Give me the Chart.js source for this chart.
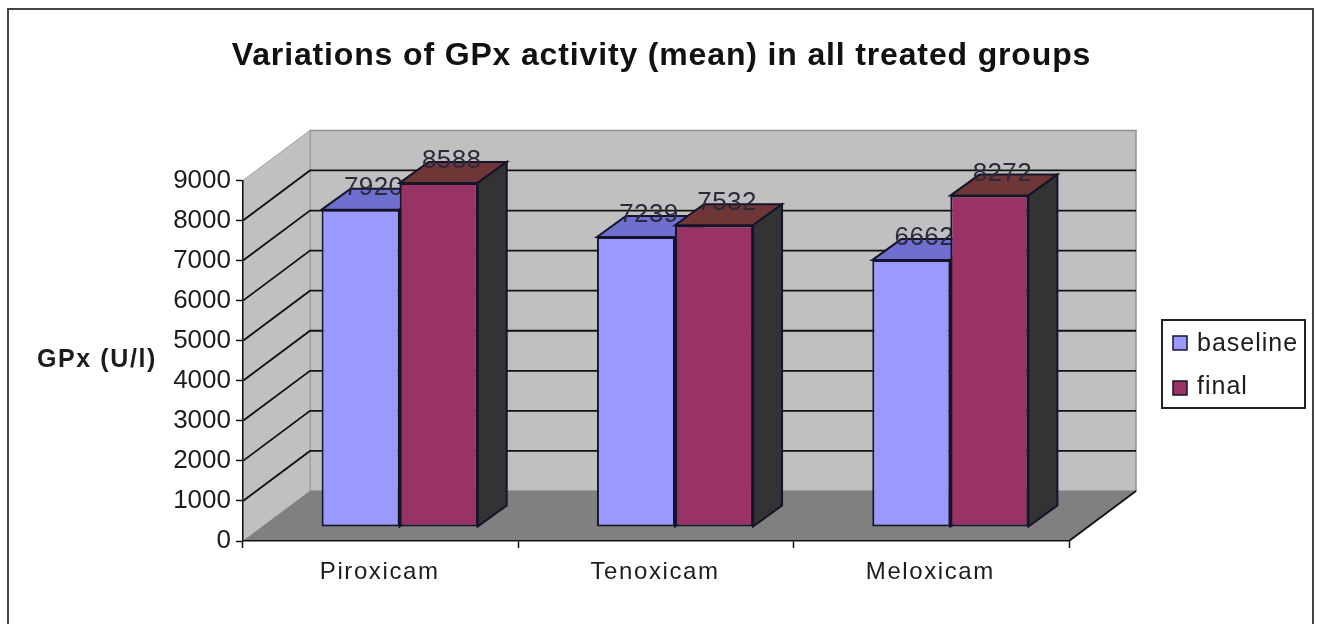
<!DOCTYPE html>
<html>
<head>
<meta charset="utf-8">
<title>GPx activity</title>
<script src="https://cdn.jsdelivr.net/npm/chart.js@4"></script>
<style>
    html, body { margin: 0; background: #fff; }
    canvas { display: block; }
</style>
</head>
<body>
<canvas id="myChart" width="1317" height="624"></canvas>
<script>
var drugs = ['Piroxicam', 'Tenoxicam', 'Meloxicam'];
var baseline = [7920, 7239, 6662];
var finalValues = [8588, 7532, 8272];
var yTicks = [0, 1000, 2000, 3000, 4000, 5000, 6000, 7000, 8000, 9000];

const chartTitle = 'Variations of GPx activity (mean) in all treated groups';
const yTitle = 'GPx (U/l)';
const fontName = '"Liberation Sans", Arial, sans-serif';
const textColor = '#1c1c1c';

// 3d look: wall depth and how far the bars sit from the front edge
const wallDx = 67, wallDy = 50;
const barDx = 19, barDy = 14;
const sideDx = 29, sideDy = 21;
const topColors = ['#6f6fcf', '#6e3636'];

function polygon(ctx, pts, fill, stroke, lw) {
    ctx.beginPath();
    pts.forEach(function (p, i) {
        if (i === 0) ctx.moveTo(p[0], p[1]); else ctx.lineTo(p[0], p[1]);
    });
    ctx.closePath();
    if (fill) { ctx.fillStyle = fill; ctx.fill(); }
    if (stroke) { ctx.strokeStyle = stroke; ctx.lineWidth = lw || 1; ctx.stroke(); }
}

// the reference text is stretched sideways, letter spacing gets close to that
function withSpacing(box, method, px, shiftX) {
    var orig = box[method];
    box[method] = function () {
        var ctx = this.ctx;
        ctx.save();
        ctx.letterSpacing = px + 'px';
        ctx.translate(shiftX || 0, 0);
        orig.apply(this, arguments);
        ctx.restore();
    };
}

const walls3d = {
    id: 'walls3d',
    beforeDraw: function (chart) {
        if (!chart.$spaced) {
            withSpacing(chart.scales.x, 'drawLabels', 1.6, -1);
            withSpacing(chart.titleBlock, 'draw', 0.85, 127);
            chart.$spaced = true;
        }
        var ctx = chart.ctx, a = chart.chartArea, y = chart.scales.y;
        ctx.save();
        // outer frame, bottom edge falls outside the picture
        ctx.strokeStyle = '#444';
        ctx.lineWidth = 2;
        ctx.strokeRect(8, 9, 1305, 640);

        polygon(ctx, [[a.left + wallDx, a.top - wallDy], [a.right + wallDx, a.top - wallDy], [a.right + wallDx, a.bottom - wallDy], [a.left + wallDx, a.bottom - wallDy]], '#c0c0c0', '#909090', 1.5);
        polygon(ctx, [[a.left, a.top], [a.left + wallDx, a.top - wallDy], [a.left + wallDx, a.bottom - wallDy], [a.left, a.bottom]], '#c0c0c0', '#a0a0a0', 1);
        polygon(ctx, [[a.left, a.bottom], [a.left + wallDx, a.bottom - wallDy], [a.right + wallDx, a.bottom - wallDy], [a.right, a.bottom]], '#808080');

        ctx.strokeStyle = '#111';
        ctx.lineWidth = 1.8;
        yTicks.forEach(function (v) {
            if (v === 0 || v === 9000) return;
            var py = y.getPixelForValue(v);
            ctx.beginPath();
            ctx.moveTo(a.left, py);
            ctx.lineTo(a.left + wallDx, py - wallDy);
            ctx.lineTo(a.right + wallDx, py - wallDy);
            ctx.stroke();
        });
        ctx.beginPath();
        ctx.moveTo(a.right, a.bottom);
        ctx.lineTo(a.right + wallDx, a.bottom - wallDy);
        ctx.stroke();
        ctx.restore();
    },
    // series are drawn here so baseline goes first and final overlaps its labels
    beforeDatasetsDraw: function (chart) {
        var ctx = chart.ctx;
        chart.data.datasets.forEach(function (ds, i) {
            var meta = chart.getDatasetMeta(i);
            ctx.save();
            ctx.translate(barDx, -barDy);
            meta.data.forEach(function (bar) {
                var p = bar.getProps(['x', 'y', 'base', 'width'], true);
                var l = p.x - p.width / 2, r = p.x + p.width / 2;
                polygon(ctx, [[l, p.y], [l + sideDx, p.y - sideDy], [r + sideDx, p.y - sideDy], [r, p.y]], topColors[i], '#14142a', 2);
                polygon(ctx, [[r, p.y], [r + sideDx, p.y - sideDy], [r + sideDx, p.base - sideDy], [r, p.base]], '#333333', '#14142a', 2);
            });
            meta.controller.draw();
            ctx.font = '26px ' + fontName;
            ctx.letterSpacing = '0.4px';
            ctx.fillStyle = '#2a2a3a';
            ctx.textAlign = 'center';
            ctx.textBaseline = 'middle';
            meta.data.forEach(function (bar, j) {
                var p = bar.getProps(['x', 'y'], true);
                ctx.fillText(ds.data[j], p.x + 13, p.y - 22);
            });
            ctx.restore();
        });
        return false;
    },
    afterDraw: function (chart) {
        var ctx = chart.ctx;
        ctx.save();
        ctx.fillStyle = textColor;
        ctx.font = 'bold 25px ' + fontName;
        ctx.textBaseline = 'middle';
        ctx.letterSpacing = '1.6px';
        ctx.fillText(yTitle, 37, 360);

        // legend box
        ctx.strokeStyle = '#222';
        ctx.lineWidth = 2;
        ctx.strokeRect(1162, 320, 143, 88);
        ctx.font = '25px ' + fontName;
        ctx.letterSpacing = '1px';
        chart.data.datasets.forEach(function (ds, i) {
            var cy = 343 + i * 45;
            ctx.fillStyle = ds.backgroundColor;
            ctx.fillRect(1173, cy - 7, 14, 14);
            ctx.strokeStyle = '#14142a';
            ctx.lineWidth = 1.5;
            ctx.strokeRect(1173, cy - 7, 14, 14);
            ctx.fillStyle = textColor;
            ctx.fillText(ds.label, 1197, 344 + i * 43);
        });
        ctx.restore();
    }
};

var ctx = document.getElementById('myChart').getContext('2d');
new Chart(ctx, {
    type: 'bar',
    data: {
        labels: drugs,
        datasets: [
            { label: 'baseline', data: baseline, backgroundColor: '#9999ff' },
            { label: 'final', data: finalValues, backgroundColor: '#993366' }
        ]
    },
    options: {
        responsive: false,
        animation: false,
        layout: { padding: { left: 0, right: 248, top: 0, bottom: 0 } },
        datasets: {
            bar: {
                barPercentage: 1,
                categoryPercentage: 0.567,
                borderWidth: 2,
                borderSkipped: false,
                borderColor: '#14142a'
            }
        },
        scales: {
            x: {
                afterFit: function (scale) { scale.height = 83; },
                grid: { drawOnChartArea: false, tickLength: 7, tickColor: '#111', tickWidth: 1.5 },
                border: { color: '#111', width: 1.5 },
                ticks: { color: textColor, padding: 10, maxRotation: 0, font: { family: fontName, size: 24 } }
            },
            y: {
                min: 0,
                max: 9000,
                afterFit: function (scale) { scale.width = 243; },
                afterBuildTicks: function (scale) { scale.ticks = yTicks.map(function (v) { return { value: v }; }); },
                grid: { drawOnChartArea: false, tickLength: 7, tickColor: '#111', tickWidth: 1.5 },
                border: { color: '#111', width: 1.5 },
                ticks: {
                    color: textColor,
                    padding: 5,
                    font: { family: fontName, size: 26 },
                    callback: function (value) { return String(value); }
                }
            }
        },
        plugins: {
            legend: { display: false },
            tooltip: { enabled: false },
            title: {
                display: true,
                text: chartTitle,
                color: '#111',
                font: { family: fontName, size: 32, weight: 'bold', lineHeight: 1.2 },
                padding: { top: 37, bottom: 105 }
            }
        }
    },
    plugins: [walls3d]
});
</script>
</body>
</html>
